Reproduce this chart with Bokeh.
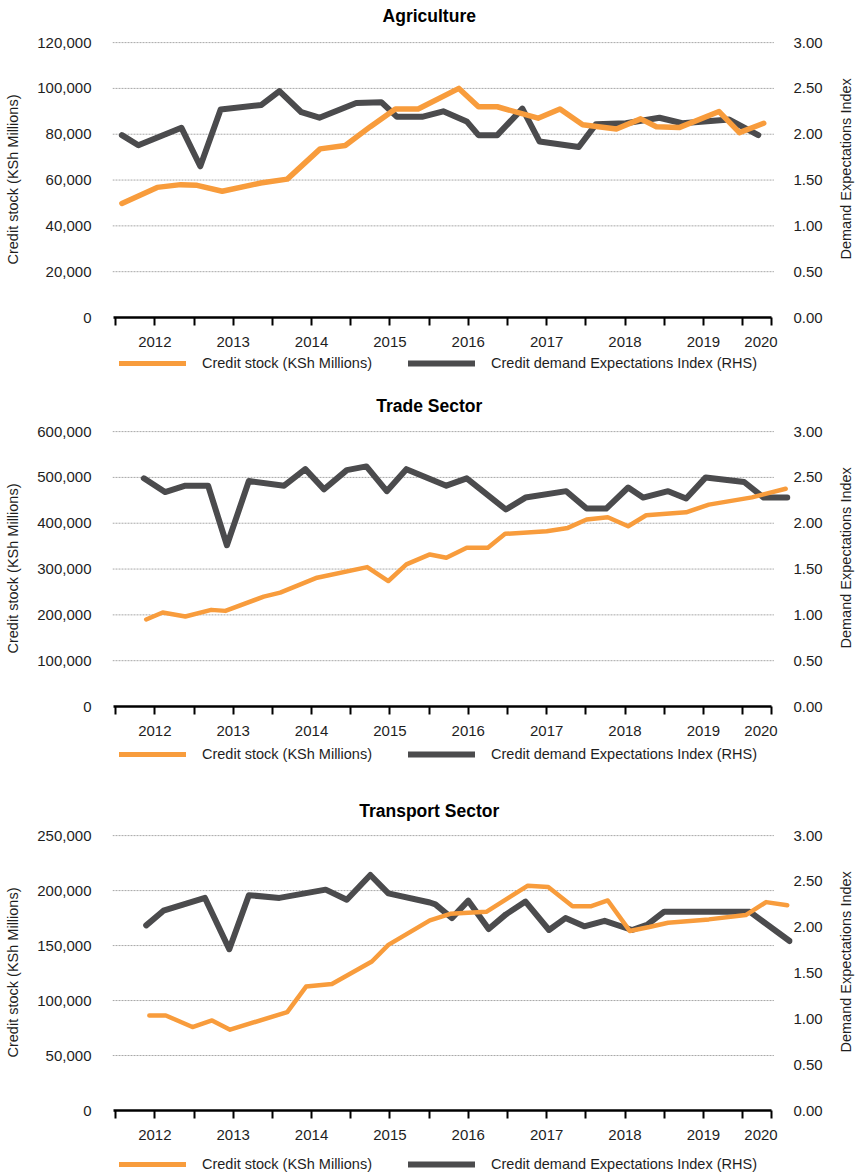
import math
from bokeh.plotting import figure
from bokeh.models import (Range1d, LinearAxis, FixedTicker, NumeralTickFormatter,
                          Legend, LegendItem)
from bokeh.core.properties import value
from bokeh.layouts import column, row
from bokeh.embed import file_html
from bokeh.resources import INLINE

# ---------------- data (x = fractional year) ----------------
agri_stock_x = [2011.58, 2012.03, 2012.33, 2012.54, 2012.86, 2013.35, 2013.69, 2014.11,
                2014.43, 2014.75, 2015.07, 2015.36, 2015.88, 2016.13, 2016.37, 2016.89,
                2017.17, 2017.46, 2017.89, 2018.20, 2018.40, 2018.69, 2019.20, 2019.46,
                2019.77]
agri_stock = [49800, 56800, 58000, 57700, 55100, 58700, 60400, 73600,
              75100, 83300, 91000, 91000, 100000, 92000, 92000, 87000,
              91000, 84100, 82300, 86700, 83300, 82900, 89900, 80700,
              84800]
agri_index_x = [2011.58, 2011.79, 2012.34, 2012.58, 2012.84, 2013.36, 2013.59, 2013.87,
                2014.10, 2014.57, 2014.89, 2015.09, 2015.41, 2015.68, 2015.98, 2016.13,
                2016.37, 2016.69, 2016.91, 2017.41, 2017.63, 2018.01, 2018.44, 2018.73,
                2019.33, 2019.70]
agri_index = [1.99, 1.88, 2.07, 1.65, 2.27, 2.32, 2.47, 2.24,
              2.18, 2.34, 2.35, 2.19, 2.19, 2.25, 2.14, 1.99,
              1.99, 2.28, 1.92, 1.86, 2.11, 2.12, 2.18, 2.12,
              2.16, 1.99]

trade_stock_x = [2011.89, 2012.10, 2012.39, 2012.72, 2012.90, 2013.39, 2013.60, 2014.07,
                 2014.71, 2014.98, 2015.21, 2015.51, 2015.72, 2015.98, 2016.25, 2016.47,
                 2017.00, 2017.27, 2017.51, 2017.78, 2018.04, 2018.27, 2018.78, 2019.07,
                 2019.62, 2020.05]
trade_stock = [189900, 205100, 196400, 210900, 208700, 239800, 248500, 281100,
               304300, 273900, 310100, 331900, 324600, 346400, 346400, 376800,
               382600, 389800, 408000, 413000, 393500, 417400, 423900, 440600,
               456500, 475300]
trade_index_x = [2011.86, 2012.13, 2012.39, 2012.68, 2012.92, 2013.20, 2013.65, 2013.92,
                 2014.16, 2014.45, 2014.70, 2014.96, 2015.21, 2015.72, 2015.98, 2016.48,
                 2016.73, 2017.25, 2017.51, 2017.76, 2018.04, 2018.23, 2018.55, 2018.78,
                 2019.03, 2019.52, 2019.77, 2020.07]
trade_index = [2.49, 2.34, 2.41, 2.41, 1.76, 2.46, 2.41, 2.59,
               2.37, 2.58, 2.62, 2.35, 2.59, 2.41, 2.49, 2.15,
               2.28, 2.35, 2.16, 2.16, 2.39, 2.28, 2.35, 2.27,
               2.50, 2.45, 2.28, 2.28]

transport_stock_x = [2011.93, 2012.14, 2012.48, 2012.73, 2012.96, 2013.69, 2013.93, 2014.26,
                     2014.77, 2014.98, 2015.51, 2015.77, 2016.23, 2016.76, 2017.02, 2017.33,
                     2017.57, 2017.78, 2018.06, 2018.31, 2018.55, 2019.07, 2019.54, 2019.80,
                     2020.07]
transport_stock = [86400, 86400, 75900, 81900, 73500, 89500, 112700, 115100,
                   135500, 150600, 172900, 178900, 180700, 204500, 203300, 185800,
                   185800, 191000, 163300, 166900, 170800, 173800, 177700, 189500,
                   186700]
transport_index_x = [2011.89, 2012.11, 2012.64, 2012.95, 2013.20, 2013.59, 2014.18, 2014.45,
                     2014.75, 2014.98, 2015.51, 2015.58, 2015.79, 2016.00, 2016.26, 2016.48,
                     2016.73, 2017.03, 2017.24, 2017.48, 2017.74, 2018.09, 2018.29, 2018.50,
                     2019.59, 2020.10]
transport_index = [2.02, 2.18, 2.32, 1.76, 2.35, 2.32, 2.41, 2.30,
                   2.57, 2.37, 2.27, 2.25, 2.10, 2.29, 1.98, 2.14,
                   2.28, 1.97, 2.10, 2.01, 2.07, 1.97, 2.03, 2.17,
                   2.17, 1.85]

agri_stock_ticks = [0, 20000, 40000, 60000, 80000, 100000, 120000]
trade_stock_ticks = [0, 100000, 200000, 300000, 400000, 500000, 600000]
transport_stock_ticks = [0, 50000, 100000, 150000, 200000, 250000]
index_ticks = [0.0, 0.5, 1.0, 1.5, 2.0, 2.5, 3.0]
index_max = 3.0

half_year_ticks = [2011.5, 2012.0, 2012.5, 2013.0, 2013.5, 2014.0, 2014.5, 2015.0, 2015.5,
                   2016.0, 2016.5, 2017.0, 2017.5, 2018.0, 2018.5, 2019.0, 2019.5, 2019.875]
year_ticks = [2012.0, 2013.0, 2014.0, 2015.0, 2016.0, 2017.0, 2018.0, 2019.0, 2019.735]
year_labels = ["2012", "2013", "2014", "2015", "2016", "2017", "2018", "2019", "2020"]

titles = ["Agriculture", "Trade Sector", "Transport Sector"]
stock_name = "Credit stock (KSh Millions)"
index_name = "Credit demand Expectations Index (RHS)"
left_title = "Credit stock (KSh Millions)"
right_title = "Demand Expectations Index"

# ---------------- style / layout ----------------
FONT = "Liberation Sans"
ORANGE = "#F89C3C"
GRAY = "#4B4B4D"
TEXT = "#1E1E1E"
GRIDC = "#A8A8A8"
W = 857
W_MAIN = 825
BL, BR = 112, 63
X_START, X_END = 2011.46, 2020.137
AXIS_END = 2019.875
GRID_X0, GRID_X1 = 2011.46, 2019.90
TITLE_X = 2015.49
PAD = 1.004
FRAME_H = 276
BTOP, BBOT = 11, 36
PANEL_H = BTOP + FRAME_H + BBOT


def strip(f, left=BL, right=BR):
    f.outline_line_color = None
    f.min_border_left = left
    f.min_border_right = right


def make_title(text, height, ty):
    f = figure(width=W, height=height, x_range=Range1d(X_START, X_END),
               y_range=Range1d(height, 0), output_backend="svg", toolbar_location=None,
               x_axis_type=None, y_axis_type=None, min_border_top=0, min_border_bottom=0)
    strip(f)
    f.text(x=[TITLE_X], y=[ty], text=[text], text_align="center", text_baseline="middle",
           text_font=value(FONT), text_font_size=value("17.5px"),
           text_font_style="bold", text_color="black")
    return f


def make_right_title():
    w = W - W_MAIN
    f = figure(width=w, height=PANEL_H, x_range=Range1d(0, w),
               y_range=Range1d(PANEL_H, 0), output_backend="svg", toolbar_location=None,
               x_axis_type=None, y_axis_type=None, min_border_top=0, min_border_bottom=0,
               min_border_left=0, min_border_right=0)
    f.outline_line_color = None
    f.text(x=[20], y=[BTOP + FRAME_H / 2], text=[right_title], angle=math.pi / 2,
           text_align="center", text_baseline="middle",
           text_font=value(FONT), text_font_size=value("14.5px"), text_color=TEXT)
    return f


def make_panel(sx, sy, ix, iy, sticks, owidth):
    smax = sticks[-1]
    p = figure(width=W_MAIN, height=PANEL_H,
               x_range=Range1d(X_START, X_END), y_range=Range1d(0, smax * PAD),
               output_backend="svg", toolbar_location=None,
               x_axis_type=None, y_axis_type=None,
               min_border_top=BTOP, min_border_bottom=BBOT)
    strip(p, BL, BR - (W - W_MAIN))
    p.extra_y_ranges = {"idx": Range1d(0, index_max * PAD)}

    yl = LinearAxis(ticker=FixedTicker(ticks=sticks),
                    formatter=NumeralTickFormatter(format="0,0"),
                    axis_label=left_title)
    yl.axis_line_color = None
    yl.major_tick_line_color = None
    yl.minor_tick_line_color = None
    yl.major_tick_out = 0
    yl.major_tick_in = 0
    yl.major_label_text_font = FONT
    yl.major_label_text_font_size = "15px"
    yl.major_label_text_color = TEXT
    yl.major_label_standoff = 21
    yl.axis_label_text_font = FONT
    yl.axis_label_text_font_size = "14.5px"
    yl.axis_label_text_font_style = "normal"
    yl.axis_label_text_color = TEXT
    yl.axis_label_standoff = 13
    p.add_layout(yl, "left")

    yr = LinearAxis(y_range_name="idx", ticker=FixedTicker(ticks=index_ticks),
                    formatter=NumeralTickFormatter(format="0.00"))
    yr.axis_line_color = None
    yr.major_tick_line_color = None
    yr.minor_tick_line_color = None
    yr.major_tick_out = 0
    yr.major_tick_in = 0
    yr.major_label_text_font = FONT
    yr.major_label_text_font_size = "15px"
    yr.major_label_text_color = TEXT
    yr.major_label_standoff = 1
    p.add_layout(yr, "right")

    xa = LinearAxis(ticker=FixedTicker(ticks=half_year_ticks), bounds=(X_START + 0.01, AXIS_END))
    xa.axis_line_color = "black"
    xa.axis_line_width = 2.5
    xa.major_tick_line_color = "black"
    xa.major_tick_line_width = 2
    xa.major_tick_out = 8
    xa.major_tick_in = 0
    xa.minor_tick_line_color = None
    xa.major_label_text_font_size = "1px"
    xa.major_label_text_color = None
    xa.major_label_standoff = 0
    p.add_layout(xa, "below")

    xb = LinearAxis(ticker=FixedTicker(ticks=year_ticks),
                    major_label_overrides={t: l for t, l in zip(year_ticks, year_labels)})
    xb.axis_line_color = None
    xb.major_tick_line_color = None
    xb.minor_tick_line_color = None
    xb.major_tick_out = 0
    xb.major_tick_in = 0
    xb.major_label_standoff = 11
    xb.major_label_text_font = FONT
    xb.major_label_text_font_size = "15px"
    xb.major_label_text_color = TEXT
    p.add_layout(xb, "below")

    gt = sticks[1:]
    p.segment(x0=GRID_X0, y0=gt, x1=GRID_X1, y1=gt, line_color=GRIDC,
              line_width=1, line_dash="2 1")
    p.line(ix, iy, y_range_name="idx", line_color=GRAY, line_width=6,
           line_join="round", line_cap="round")
    p.line(sx, sy, line_color=ORANGE, line_width=owidth,
           line_join="round", line_cap="round")
    return row(p, make_right_title(), spacing=0)


def make_legend(height, yb, sx, sy, ix, iy):
    f = figure(width=W, height=height, x_range=Range1d(X_START, X_END),
               y_range=Range1d(0, 1), output_backend="svg", toolbar_location=None,
               x_axis_type=None, y_axis_type=None, min_border_top=0, min_border_bottom=0)
    strip(f)
    # series drawn outside this strip's ranges: only their legend samples show
    lo = f.line(sx, sy, line_color=ORANGE, line_width=5, line_cap="round")
    lg = f.line(ix, iy, line_color=GRAY, line_width=6, line_cap="round")
    legend = Legend(items=[LegendItem(label=stock_name, renderers=[lo]),
                           LegendItem(label=index_name, renderers=[lg])],
                    orientation="horizontal", location=(7, yb), margin=0, padding=0,
                    spacing=36, glyph_width=67, glyph_height=20, label_standoff=16,
                    label_text_font=FONT, label_text_font_size="14.5px",
                    label_text_color=TEXT, border_line_color=None,
                    background_fill_alpha=0)
    f.add_layout(legend)
    return f


t1 = make_title(titles[0], 30, 15)
p1 = make_panel(agri_stock_x, agri_stock, agri_index_x, agri_index, agri_stock_ticks, 5.5)
l1 = make_legend(20, 0, agri_stock_x, agri_stock, agri_index_x, agri_index)

t2 = make_title(titles[1], 46, 32)
p2 = make_panel(trade_stock_x, trade_stock, trade_index_x, trade_index, trade_stock_ticks, 4.5)
l2 = make_legend(22, 0, trade_stock_x, trade_stock, trade_index_x, trade_index)

t3 = make_title(titles[2], 59, 46)
p3 = make_panel(transport_stock_x, transport_stock, transport_index_x, transport_index,
                transport_stock_ticks, 4.5)
l3 = make_legend(30, 2, transport_stock_x, transport_stock, transport_index_x, transport_index)

layout = column(t1, p1, l1, t2, p2, l2, t3, p3, l3, spacing=0)
open("out.html", "w").write(file_html(layout, INLINE))
